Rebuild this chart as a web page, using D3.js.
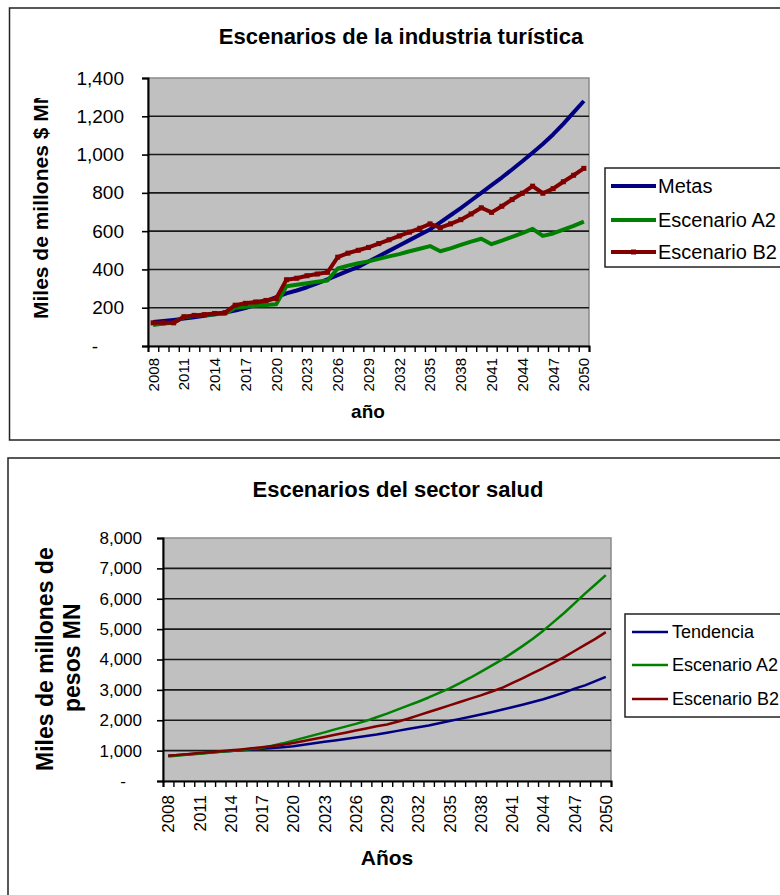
<!DOCTYPE html>
<html>
<head>
<meta charset="utf-8">
<script src="https://cdn.jsdelivr.net/npm/d3@7/dist/d3.min.js"></script>
<style>
  html, body { margin: 0; padding: 0; background: #fff; }
  svg { display: block; }
  text { font-family: "Liberation Sans", Arial, sans-serif; fill: #000; }
</style>
</head>
<body>
<svg id="chart" width="780" height="895"></svg>
<script>
// Years shared by both panels
const years = d3.range(2008, 2051);

// Panel 1: tourism industry (miles de millones $ MN)
const metas = [125,130,136,143,150,158,166,175,185,198,215,235,255,275,290,307,327,348,370,392,413,441,469,497,525,553,581,609,646,683,720,760,800,840,880,922,965,1010,1055,1105,1160,1220,1280];
const turA2 = [110,118,122,150,158,162,166,168,200,205,210,214,218,312,320,328,336,342,405,420,432,442,455,468,480,495,508,522,495,510,528,545,560,532,550,570,590,612,575,588,608,628,650];
const turB2 = [121,121,121,153,160,164,170,174,213,223,230,238,248,346,354,367,376,385,464,485,500,515,535,555,575,595,615,638,618,638,660,690,722,698,730,765,798,835,798,822,858,892,928];
const turTicks = [0,200,400,600,800,1000,1200,1400];
const turSeries = ["Metas","Escenario A2","Escenario B2"];

// Panel 2: health sector (miles de millones de pesos MN)
const tendencia = [830,855,880,905,935,960,990,1015,1040,1065,1090,1115,1145,1190,1240,1290,1335,1380,1430,1480,1530,1590,1650,1710,1770,1830,1900,1975,2045,2115,2190,2265,2345,2425,2510,2600,2690,2800,2910,3040,3150,3290,3430];
const salA2 = [810,840,870,900,930,960,990,1020,1055,1090,1160,1240,1330,1420,1510,1600,1700,1790,1880,1980,2100,2220,2350,2480,2610,2750,2900,3050,3220,3400,3590,3790,3990,4210,4440,4680,4950,5240,5530,5850,6170,6470,6780];
const salB2 = [830,860,890,920,950,980,1010,1040,1075,1110,1150,1195,1250,1320,1385,1450,1520,1590,1660,1730,1800,1860,1950,2050,2160,2270,2380,2490,2600,2710,2820,2940,3060,3220,3380,3550,3720,3900,4080,4280,4480,4680,4900];
const salTicks = [0,1000,2000,3000,4000,5000,6000,7000,8000];
const salSeries = ["Tendencia","Escenario A2","Escenario B2"];

const colors = ["#000080", "#008000", "#800000"];
const svg = d3.select("#chart");
const defs = svg.append("defs");

function panel(cfg) {
  const g = svg.append("g");
  // outer frame
  g.append("rect").attr("x", cfg.frame[0]).attr("y", cfg.frame[1])
    .attr("width", cfg.frame[2]).attr("height", cfg.frame[3])
    .attr("fill", "#fff").attr("stroke", "#222").attr("stroke-width", 1.5);

  const x = d3.scaleBand().domain(years).range([cfg.plot.x0, cfg.plot.x1]);
  const xi = d3.scaleLinear().domain([0, years.length]).range([cfg.plot.x0, cfg.plot.x1]);
  const y = d3.scaleLinear().domain(cfg.yDomain).range([cfg.plot.y1, cfg.plot.y0]);

  // plot area
  g.append("rect").attr("x", cfg.plot.x0).attr("y", cfg.plot.y0)
    .attr("width", cfg.plot.x1 - cfg.plot.x0).attr("height", cfg.plot.y1 - cfg.plot.y0)
    .attr("fill", "#c0c0c0").attr("stroke", "#8a8a8a").attr("stroke-width", 1.5);

  // gridlines
  g.append("g").selectAll("line").data(cfg.ticks.filter(t => t > 0 && t < cfg.yDomain[1]))
    .join("line")
    .attr("x1", cfg.plot.x0).attr("x2", cfg.plot.x1)
    .attr("y1", d => y(d)).attr("y2", d => y(d))
    .attr("stroke", "#1a1a1a").attr("stroke-width", 1.6);

  // y axis
  const ya = g.append("g").attr("transform", `translate(${cfg.plot.x0},0)`)
    .call(d3.axisLeft(y).tickValues(cfg.ticks).tickSize(6).tickPadding(cfg.yPad)
      .tickFormat(d => d === 0 ? "-" : d3.format(",")(d)));
  ya.select(".domain").attr("stroke", "#000").attr("stroke-width", 2);
  ya.selectAll(".tick line").attr("stroke", "#000").attr("stroke-width", 1.6);
  ya.selectAll(".tick text").attr("font-size", cfg.yFont).attr("fill", "#111")
    .attr("dx", d => d === 0 ? cfg.zeroShift : 0);

  // x axis: category boundary ticks
  const xa = g.append("g").attr("transform", `translate(0,${cfg.plot.y1})`)
    .call(d3.axisBottom(xi).tickValues(d3.range(years.length + 1)).tickSize(6).tickFormat(""));
  xa.select(".domain").attr("stroke", "#000").attr("stroke-width", 2);
  xa.selectAll(".tick line").attr("stroke", "#000").attr("stroke-width", 1.4);

  // x axis labels every third year
  const xl = g.append("g").attr("transform", `translate(0,${cfg.plot.y1})`)
    .call(d3.axisBottom(x).tickValues(years.filter((d, i) => i % 3 === 0)).tickSize(0));
  xl.select(".domain").remove();
  xl.selectAll(".tick text")
    .attr("font-size", cfg.xFont).attr("fill", "#111")
    .attr("transform", "rotate(-90)")
    .attr("x", -cfg.xLabelGap).attr("y", 0).attr("dy", "0.36em")
    .style("text-anchor", "end");

  // series lines
  const line = d3.line().x((d, i) => x(years[i]) + x.bandwidth() / 2).y(d => y(d));
  cfg.data.forEach((s, k) => {
    g.append("path").datum(s).attr("d", line).attr("fill", "none")
      .attr("stroke", colors[k]).attr("stroke-width", cfg.lineW)
      .attr("stroke-linejoin", "round");
  });
  if (cfg.markers) {
    g.append("g").selectAll("rect").data(cfg.data[2]).join("rect")
      .attr("x", (d, i) => x(years[i]) + x.bandwidth() / 2 - 2.5)
      .attr("y", d => y(d) - 2.5).attr("width", 5).attr("height", 5)
      .attr("fill", colors[2]);
  }

  // title
  g.append("text").attr("x", cfg.title.x).attr("y", cfg.title.y)
    .attr("text-anchor", "middle").attr("font-weight", "bold")
    .attr("font-size", cfg.title.size).text(cfg.title.text);

  // x axis title
  g.append("text").attr("x", cfg.xTitle.x).attr("y", cfg.xTitle.y)
    .attr("text-anchor", "middle").attr("font-weight", "bold")
    .attr("font-size", cfg.xTitle.size).text(cfg.xTitle.text);

  // y axis title, clipped at the top of its box
  const cid = "clip" + cfg.id;
  defs.append("clipPath").attr("id", cid).append("rect")
    .attr("x", 0).attr("y", cfg.yTitle.clipTop).attr("width", 140).attr("height", 500);
  const yt = g.append("g").attr("clip-path", `url(#${cid})`);
  cfg.yTitle.lines.forEach((t, j) => {
    yt.append("text")
      .attr("transform", `translate(${cfg.yTitle.x[j]},${cfg.yTitle.cy[j]}) rotate(-90)`)
      .attr("text-anchor", cfg.yTitle.anchor).attr("font-weight", "bold")
      .attr("font-size", cfg.yTitle.size).text(t);
  });

  // legend
  const L = cfg.legend;
  const lg = g.append("g");
  lg.append("rect").attr("x", L.x).attr("y", L.y).attr("width", L.w).attr("height", L.h)
    .attr("fill", "#fff").attr("stroke", "#222").attr("stroke-width", 1.5);
  cfg.names.forEach((n, k) => {
    const cy = L.rows[k];
    lg.append("line").attr("x1", L.lx0).attr("x2", L.lx1).attr("y1", cy).attr("y2", cy)
      .attr("stroke", colors[k]).attr("stroke-width", L.lw);
    if (cfg.markers && k === 2) {
      lg.append("rect").attr("x", (L.lx0 + L.lx1) / 2 - 2.5).attr("y", cy - 2.5)
        .attr("width", 5).attr("height", 5).attr("fill", colors[k]);
    }
    lg.append("text").attr("x", L.tx).attr("y", cy).attr("dy", "0.36em")
      .attr("font-size", L.size).text(n);
  });
}

panel({
  id: "tur",
  frame: [9.5, 8, 800, 432],
  plot: { x0: 148, x1: 589, y0: 78, y1: 346 },
  yDomain: [0, 1400], ticks: turTicks,
  yFont: 19, yPad: 18, zeroShift: -26,
  xFont: 15, xLabelGap: 12,
  lineW: 4, markers: true,
  data: [metas, turA2, turB2], names: turSeries,
  title: { text: "Escenarios de la industria turística", x: 401, y: 44, size: 22 },
  xTitle: { text: "año", x: 368, y: 418, size: 19 },
  yTitle: { lines: ["Miles de millones $ MN"], x: [48], cy: [319], anchor: "start", size: 21, clipTop: 98 },
  legend: { x: 605, y: 168, w: 220, h: 99, rows: [186, 220, 252], lx0: 611, lx1: 656, lw: 4, tx: 658, size: 20 }
});

panel({
  id: "sal",
  frame: [8, 458, 800, 460],
  plot: { x0: 163, x1: 611, y0: 538, y1: 781 },
  yDomain: [0, 8000], ticks: salTicks,
  yFont: 17, yPad: 15, zeroShift: -16,
  xFont: 17, xLabelGap: 14,
  lineW: 2.5, markers: false,
  data: [tendencia, salA2, salB2], names: salSeries,
  title: { text: "Escenarios del sector salud", x: 398, y: 497, size: 22 },
  xTitle: { text: "Años", x: 387, y: 865, size: 21 },
  yTitle: { lines: ["Miles de millones de", "pesos MN"], x: [53, 80], cy: [771, 712], anchor: "start", size: 23, clipTop: 545 },
  legend: { x: 625, y: 614, w: 220, h: 103, rows: [632, 665, 699], lx0: 632, lx1: 668, lw: 2.5, tx: 672, size: 18 }
});
</script>
</body>
</html>
